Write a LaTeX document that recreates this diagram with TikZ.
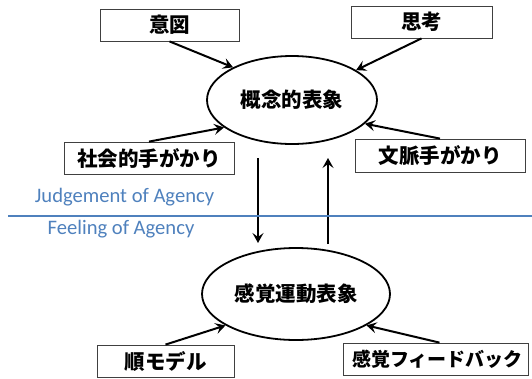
\documentclass[tikz,border=0pt]{standalone}
\usepackage{fontspec}
\newfontfamily\cjk{Noto Sans CJK JP}
\newfontfamily\carlito{Carlito}
\usetikzlibrary{arrows.meta,shapes.geometric,calc}
\definecolor{agblue}{RGB}{79,129,189}
\begin{document}
\begin{tikzpicture}[x=1pt,y=-1pt,
  box/.style={draw=black!75,line width=0.8pt,inner sep=0pt,minimum height=32pt,
    font=\cjk\bfseries\fontsize{20.5}{24}\selectfont},
  ov/.style={ellipse,draw,line width=1.8pt,inner sep=0pt,
    font=\cjk\bfseries\fontsize{20.5}{24}\selectfont},
  arr/.style={line width=2pt,-{Stealth[length=10pt,width=11pt,inset=4pt]}},
  varr/.style={line width=2.4pt,-{Stealth[length=10pt,width=11pt,inset=4pt]}},
  bluetxt/.style={text=agblue,inner sep=0pt,font=\carlito\fontsize{20.6}{24}\selectfont}]
\useasboundingbox (0,0) rectangle (532,378);
\node[ov,minimum width=170pt,minimum height=88pt] (e1) at (292,100) {概念的表象};
\node[ov,minimum width=188pt,minimum height=92pt] (e2) at (296,294) {感覚運動表象};
\node[box,minimum width=139pt] (b1) at (169.5,25) {意図};
\node[box,minimum width=141pt] (b2) at (421.5,22) {思考};
\node[box,minimum width=170pt] (b3) at (149,158) {社会的手がかり};
\node[box,minimum width=170pt,minimum height=33pt] (b4) at (440,155.5) {文脈手がかり};
\node[box,minimum width=137pt] (b5) at (165.5,361) {順モデル};
\node[box,minimum width=185pt,font=\cjk\bfseries\fontsize{19}{24}\selectfont] (b6) at (435.5,359) {\hspace*{4pt}感覚フィードバック};
\draw[arr] (b1.south) -- (e1.151);
\draw[arr] (b2.south) -- (e1.25);
\draw[arr] (b3.north) -- (e1.202);
\draw[arr] (b4.north) -- (e1.-18);
\draw[arr] (b5.north) -- (e2.204);
\draw[arr] ($(b6.north)+(4,0)$) -- (e2.-24);
\coordinate (d1) at (258,158);
\coordinate (d2) at (258,243);
\coordinate (u1) at (328,244);
\coordinate (u2) at (328,158);
\draw[varr] (d1) -- (d2);
\draw[varr] (u1) -- (u2);
\coordinate (l1) at (8,216);
\coordinate (l2) at (532,216);
\draw[agblue,line width=2pt] (l1) -- (l2);
\node[bluetxt] (jt) at (124.5,197) {Judgement of Agency};
\node[bluetxt] (ft) at (121,229) {Feeling of Agency};
\end{tikzpicture}
\end{document}
